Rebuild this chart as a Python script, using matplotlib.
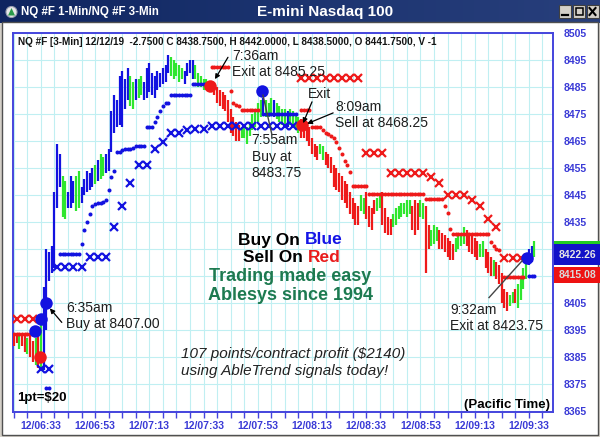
import matplotlib
matplotlib.use("Agg")
import matplotlib.pyplot as plt
from matplotlib.patches import Rectangle, Circle, Polygon
from matplotlib.colors import LinearSegmentedColormap
from matplotlib.ticker import FixedLocator, NullFormatter
import numpy as np

plt.rcParams['font.family'] = ['Liberation Sans', 'DejaVu Sans']

# ---- data (1-min bars from 6:23, minutes since midnight) ----
bar_start = 383
bar_hi = [8394, 8394, 8394, 8393, 8394, 8392, 8393, 8391, 8392, 8395,
          8400, 8411, 8425, 8424, 8426, 8446, 8464, 8460, 8452, 8450,
          8446, 8452, 8450, 8452, 8454, 8448, 8451, 8454, 8453, 8455,
          8456, 8458, 8460, 8459, 8460, 8462, 8476, 8482, 8480, 8489,
          8491, 8488, 8492, 8489, 8487, 8488, 8488, 8489, 8487, 8492,
          8494, 8490, 8489, 8491, 8490, 8492, 8493, 8497, 8496, 8495,
          8494, 8493, 8492, 8491, 8494, 8495, 8495, 8493, 8490, 8489,
          8488, 8488, 8487, 8487, 8486, 8485, 8484, 8483, 8482, 8480,
          8477, 8474, 8472, 8471, 8470, 8471, 8470, 8472, 8475, 8477,
          8479, 8480, 8481, 8480, 8479, 8481, 8480, 8479, 8478, 8477,
          8477, 8476, 8477, 8476, 8475, 8474, 8473, 8472, 8472, 8470,
          8466, 8464, 8463, 8464, 8463, 8461, 8460, 8459, 8456, 8455,
          8453, 8452, 8450, 8449, 8446, 8444, 8442, 8441, 8445, 8444,
          8446, 8441, 8440, 8443, 8444, 8445, 8446, 8440, 8437, 8436,
          8438, 8440, 8441, 8442, 8442, 8443, 8443, 8441, 8443, 8442,
          8443, 8442, 8441, 8434, 8432, 8434, 8433, 8432, 8431, 8430,
          8429, 8428, 8427, 8429, 8430, 8431, 8433, 8432, 8431, 8430,
          8429, 8428, 8427, 8428, 8425, 8424, 8422, 8421, 8420, 8419,
          8416, 8410, 8409, 8408, 8409, 8410, 8412, 8414, 8418, 8422,
          8425, 8426, 8428]
bar_lo = [8389, 8390, 8388, 8389, 8387, 8386, 8385, 8383, 8382, 8381,
          8381, 8380, 8395, 8413, 8416, 8418, 8440, 8448, 8437, 8436,
          8440, 8440, 8442, 8439, 8440, 8442, 8445, 8446, 8447, 8448,
          8449, 8450, 8451, 8452, 8453, 8454, 8461, 8468, 8470, 8471,
          8470, 8477, 8480, 8478, 8477, 8480, 8481, 8482, 8480, 8481,
          8483, 8482, 8481, 8484, 8485, 8486, 8487, 8490, 8489, 8488,
          8489, 8487, 8488, 8486, 8489, 8490, 8488, 8488, 8485, 8485,
          8484, 8484, 8484, 8483, 8482, 8479, 8478, 8477, 8476, 8472,
          8468, 8467, 8465, 8465, 8466, 8466, 8464, 8467, 8469, 8470,
          8472, 8474, 8475, 8474, 8474, 8475, 8474, 8473, 8472, 8471,
          8470, 8470, 8471, 8470, 8469, 8468, 8466, 8466, 8465, 8463,
          8460, 8459, 8458, 8460, 8458, 8456, 8455, 8453, 8448, 8447,
          8446, 8443, 8442, 8440, 8438, 8436, 8434, 8434, 8439, 8438,
          8436, 8433, 8432, 8438, 8439, 8440, 8434, 8431, 8430, 8430,
          8433, 8434, 8436, 8437, 8438, 8437, 8438, 8432, 8430, 8432,
          8437, 8436, 8416, 8425, 8426, 8427, 8428, 8425, 8425, 8424,
          8422, 8421, 8421, 8424, 8425, 8426, 8427, 8426, 8424, 8423,
          8422, 8421, 8422, 8422, 8418, 8416, 8415, 8415, 8414, 8412,
          8405, 8403, 8402, 8404, 8405, 8405, 8403, 8406, 8410, 8414,
          8419, 8420, 8422]
bar_col = ("rrgrrgrrgr" "gbbbbbbbgg" "bbbggbbbbb" "gbggbbbbbb" "bbbggbggbb"
           "bbbbbbbbgg" "gggbbbbggg" "ggrrrrrrrr" "rrrrgggggg" "ggbgggbggg"
           "gbggggrrrr" "rrrggrrrrr" "rrrrrrrrgg" "rrrrggrrrr" "gggggggrrr"
           "ggrrgggrrr" "rrrggggrrr" "rrggrrrgrr" "rrrggrgggg" "bbg")

# blue trailing stop (small dots), bar index / price
blue_stop_idx = [12, 13, 17, 18, 19, 20, 21, 22, 23, 24, 25, 26, 27, 28,
                 29, 30, 31, 32, 33, 34, 35, 36, 37,
                 38, 39, 40, 41, 42, 43, 44, 45, 46, 47, 48,
                 49, 50, 51, 52, 53, 54, 55, 56, 57,
                 58, 59, 60, 61, 62, 63, 64, 65, 66, 67, 68, 69, 70, 71,
                 92, 93, 94, 95, 96, 97, 98, 99, 100, 101, 102, 103, 104,
                 190, 191, 192]
blue_stop_px = [8373.5, 8373.5, 8423, 8423, 8423, 8423, 8423, 8423, 8423, 8423,
                8427, 8432, 8435, 8438,
                8441, 8441.5, 8442, 8442, 8442.5, 8443, 8447, 8451.5, 8454,
                8461, 8461, 8461.5, 8462, 8462, 8462, 8462.5, 8463, 8463, 8463, 8463,
                8470, 8470, 8470, 8472, 8474, 8476, 8478, 8479, 8479,
                8482, 8482, 8482, 8482, 8482, 8482, 8482, 8482,
                8486, 8486, 8486, 8486, 8486, 8486,
                8475, 8475, 8475, 8475, 8475, 8475, 8475, 8475, 8475, 8475,
                8475, 8475, 8475,
                8415, 8415, 8415]

# blue slow stop (x marks)
blue_x_idx = [10, 13, 16, 19, 22, 25, 28, 31, 34, 37, 40, 43, 46, 49, 52, 55,
              58, 61, 64, 67, 70, 73, 76, 79, 82, 85, 88, 91, 94, 97, 100, 103]
blue_x_px = [8380.5, 8380.5, 8418.5, 8418.5, 8418.5, 8418.5, 8422, 8422, 8422,
             8433, 8441, 8449.5, 8456, 8456, 8462, 8464.5, 8468, 8468, 8469,
             8469.5, 8469.5, 8470.7, 8470.7, 8470.7, 8470.7, 8470.7, 8470.7,
             8470.7, 8470.7, 8470.7, 8470.7, 8470.7]

# red trailing stop (small dots)
red_stop_idx = [0, 1, 2, 3, 4, 5, 6, 7,
                73, 74, 75, 76, 77, 78, 79, 80, 81, 82, 83,
                84, 85, 86, 87, 88, 89, 90,
                106, 107, 108, 109, 110, 111, 112, 113, 114, 115, 116, 117, 118,
                119, 120, 121, 122, 123, 124, 125, 126, 127, 128, 129, 130,
                131, 132, 133, 134, 135, 136, 137, 138, 139, 140, 141, 142, 143,
                144, 145, 146, 147, 148, 149, 150, 151,
                152, 153, 154, 155, 156, 157, 158, 159, 160, 161,
                162, 163, 164, 165, 166, 167, 168, 169, 170, 171, 172, 173, 174, 175,
                176, 177, 178, 179,
                181, 182, 183, 184, 185, 186, 187, 188]
red_stop_px = [8393.5, 8393.5, 8393.5, 8393.5, 8393.5, 8393.5, 8393.5, 8393.5,
               8492.5, 8492.5, 8492.5, 8492.5, 8492.5, 8492.5, 8492.5,
               8483.5, 8479, 8478.5, 8478,
               8476.3, 8476.3, 8476.3, 8476.3, 8476.3, 8476.3, 8476.3,
               8476.3, 8476.3, 8476.3, 8476.3, 8470, 8470, 8470, 8470,
               8469, 8468, 8467.5, 8467, 8466,
               8464.5, 8462.5, 8460, 8457.5, 8456, 8453.5,
               8448.5, 8448.5, 8448.5, 8448.5, 8448.5, 8448.5,
               8445.3, 8445.3, 8445.3, 8445.3, 8445.3, 8445.3, 8445.3, 8445.3,
               8445.3, 8445.3, 8445.3, 8445.3, 8445.3, 8445.3, 8445.3, 8445.3,
               8445.3, 8445.3, 8445.3, 8445.3, 8445.3,
               8443.5, 8443.5, 8443.5, 8443.5, 8443.5, 8443.5, 8443.5,
               8441, 8438.5, 8432.5,
               8430.5, 8430.5, 8430.5, 8430.5, 8430.5, 8430.5, 8430.5, 8430.5,
               8430.5, 8430.5, 8430.5, 8430.5, 8430.5, 8430.5,
               8427.5, 8426, 8425, 8424.5,
               8414.7, 8414.7, 8414.7, 8414.7, 8414.7, 8414.7, 8414.7, 8414.7]

# red slow stop (x marks)
red_x_idx = [1, 4, 7, 106, 109, 112, 115, 118, 121, 124, 127, 130, 133, 136,
             139, 142, 145, 148, 151, 154, 157, 160, 163, 166, 169, 172, 175,
             178, 181, 184, 187]
red_x_px = [8399, 8399, 8399, 8488.5, 8488.5, 8488.5, 8488.5, 8488.5, 8488.5,
            8488.5, 8488.5, 8460.5, 8460.5, 8460.5, 8453.3, 8453.3, 8453.3,
            8453.3, 8453.3, 8451.5, 8449.5, 8445, 8445, 8445, 8443, 8441, 8436,
            8433, 8421.5, 8421.5, 8421.5]

# signals (time in minutes since midnight)
buy_t = [390.8, 393.0, 394.8, 474.5, 572.3]
buy_p = [8394.5, 8399, 8405, 8483.6, 8421.7]
sell_t = [392.6, 455.4, 489.3]
sell_p = [8385, 8485.5, 8471]

xtick_times = [393, 413, 433, 453, 473, 493, 513, 533, 553, 573]
ytick_vals = [8365, 8375, 8385, 8395, 8405, 8415, 8425, 8435, 8445, 8455,
              8465, 8475, 8485, 8495, 8505]
# 8415 / 8425 sit under the last-price boxes, so they are not shown
ytick_hidden = [8415, 8425]

BLUE = '#1212e0'
GREEN = '#2ee62e'
RED = '#ee1a1a'
LBL = '#3a3ad6'
colmap = {'b': BLUE, 'g': GREEN, 'r': RED}

W, H = 600, 437
fig = plt.figure(figsize=(6, 4.37), dpi=100)
fig.patch.set_facecolor('#d4d0c8')

# window chrome (pixel coords)
bg = fig.add_axes([0, 0, 1, 1], zorder=0)
bg.add_patch(Rectangle((2, 22), 596, 413, fc='white', ec='#505050', lw=1))
grad = np.linspace(0, 1, 256).reshape(1, -1)
cm = LinearSegmentedColormap.from_list('tb', ['#0f2560', '#1c3470', '#283f7c'])
bg.imshow(grad, extent=(0, W, 23, 0), aspect='auto', cmap=cm)
bg.set_xlim(0, W)
bg.set_ylim(H, 0)
bg.axis('off')

# main chart
ax = fig.add_axes([13 / W, 1 - 411.5 / H, 540 / W, 378.5 / H], zorder=1)
ax.set_facecolor('white')
ax.set_xlim(382.7, 581.9)
ax.set_ylim(8364.8, 8504.1)

t = bar_start + np.arange(len(bar_hi))
ax.vlines(t, bar_lo, bar_hi, colors=[colmap[c] for c in bar_col], lw=1.6, zorder=3)

ax.plot(bar_start + np.array(blue_stop_idx), blue_stop_px, 'o', ms=2.9,
        color=BLUE, mec='none', zorder=4)
ax.plot(bar_start + np.array(red_stop_idx), red_stop_px, 'o', ms=2.9,
        color=RED, mec='none', zorder=4)
ax.plot(bar_start + np.array(blue_x_idx), blue_x_px, 'x', ms=6, mew=1.6,
        color=BLUE, zorder=4)
ax.plot(bar_start + np.array(red_x_idx), red_x_px, 'x', ms=6, mew=1.6,
        color=RED, zorder=4)
ax.plot(buy_t, buy_p, 'o', ms=9, color=BLUE, mec='none', zorder=5)
ax.plot(sell_t, sell_p, 'o', ms=9, color=RED, mec='none', zorder=5)

# axes styling
for s in ax.spines.values():
    s.set_color('#4444dd')
    s.set_linewidth(1.4)
ax.yaxis.tick_right()
ax.set_yticks(ytick_vals)
ax.set_yticklabels(['' if v in ytick_hidden else str(v) for v in ytick_vals])
ax.tick_params(axis='y', length=0, pad=8, labelsize=7.5, labelcolor=LBL)
for lab in ax.get_yticklabels():
    lab.set_fontweight('bold')
ax.set_xticks(xtick_times)
ax.set_xticklabels(['12/%02d:%02d' % (m // 60, m % 60) for m in xtick_times])
ax.xaxis.set_minor_locator(FixedLocator(list(range(383, 582, 5))))
ax.xaxis.set_minor_formatter(NullFormatter())
ax.tick_params(axis='x', which='both', direction='out', length=4, width=1,
               color='#4444dd', labelsize=7.5, labelcolor=LBL, pad=3)
for lab in ax.get_xticklabels():
    lab.set_fontweight('bold')
ax.grid(True, which='both', axis='x', color='#c0eff2', lw=0.8, zorder=0)
ax.grid(True, which='major', axis='y', color='#c0eff2', lw=0.8, zorder=0)
ax.set_axisbelow(True)

# annotations
TXT = '#1e1e1e'
ax.text(402.2, 8400.1, "6:35am\nBuy at 8407.00", fontsize=10, color=TXT,
        ha='left', va='center', linespacing=1.2, zorder=6)
ax.annotate('', xy=(396.3, 8403.0), xytext=(400.7, 8397.8),
            arrowprops=dict(arrowstyle='-|>', color='black', lw=0.9,
                            mutation_scale=7, shrinkA=0, shrinkB=0), zorder=6)
ax.text(463.4, 8493.6, "7:36am\nExit at 8485.25", fontsize=10, color=TXT,
        ha='left', va='center', linespacing=1.2, zorder=6)
ax.annotate('', xy=(457.2, 8487.9), xytext=(462.0, 8496.0),
            arrowprops=dict(arrowstyle='-|>', color='black', lw=0.9,
                            mutation_scale=7, shrinkA=0, shrinkB=0), zorder=6)
ax.text(491.5, 8482.4, "Exit", fontsize=10, color=TXT, ha='left',
        va='center', zorder=6)
ax.annotate('', xy=(489.7, 8471.6), xytext=(493.0, 8479.5),
            arrowprops=dict(arrowstyle='-|>', color='black', lw=0.9,
                            mutation_scale=7, shrinkA=0, shrinkB=0), zorder=6)
ax.text(501.5, 8474.5, "8:09am\nSell at 8468.25", fontsize=10, color=TXT,
        ha='left', va='center', linespacing=1.2, zorder=6)
ax.annotate('', xy=(491.2, 8471.4), xytext=(500.8, 8475.4),
            arrowprops=dict(arrowstyle='-|>', color='black', lw=0.9,
                            mutation_scale=7, shrinkA=0, shrinkB=0), zorder=6)
ax.text(470.7, 8459.2, "7:55am\nBuy at\n8483.75", fontsize=10, color=TXT,
        ha='left', va='center', linespacing=1.2, zorder=6)
ax.plot([478.2, 474.9], [8467.4, 8482.0], color='#444444', lw=1, zorder=6)
ax.text(543.9, 8399.4, "9:32am\nExit at 8423.75", fontsize=10, color=TXT,
        ha='left', va='center', linespacing=1.2, zorder=6)
ax.plot([558.3, 570.5], [8407.0, 8420.6], color='#444444', lw=1, zorder=6)

# overlay for free text and chrome (pixel coords)
ov = fig.add_axes([0, 0, 1, 1], zorder=2)
ov.set_xlim(0, W)
ov.set_ylim(H, 0)
ov.axis('off')

ov.add_patch(Circle((11.5, 12), 5.5, fc='#e8e8e8', ec='#9aa0b0', lw=0.8))
ov.add_patch(Polygon([[8, 15.5], [15, 15.5], [11.5, 8]], closed=True,
                     fc='#2a9a4a', ec='none'))
ov.text(21, 12, "NQ #F 1-Min/NQ #F 3-Min", color='white', fontsize=8.3,
        fontweight='bold', ha='left', va='center')
ov.text(325, 12, "E-mini Nasdaq 100", color='white', fontsize=11,
        fontweight='bold', ha='center', va='center')
for bx in (559, 573, 586.5):
    ov.add_patch(Rectangle((bx, 5), 12, 13, fc='#d4d0c8', ec='#404040', lw=0.8))
ov.plot([562, 568], [15, 15], color='black', lw=1.6)
ov.add_patch(Rectangle((576, 8), 6.5, 7, fc='none', ec='black', lw=1.1))
ov.plot([589.5, 595.5], [8, 15], color='black', lw=1.5)
ov.plot([589.5, 595.5], [15, 8], color='black', lw=1.5)

ov.text(18, 42, "NQ #F [3-Min] 12/12/19  -2.7500 C 8438.7500, H 8442.0000, "
        "L 8438.5000, O 8441.7500, V -1", fontsize=7.2, fontweight='bold',
        color='#141414', ha='left', va='center')

# price boxes on the right scale
ov.add_patch(Rectangle((554, 241), 46, 3, fc='#22cc22', ec='none'))
ov.add_patch(Rectangle((554, 244), 46, 21, fc='#1212c8', ec='none'))
ov.add_patch(Rectangle((554, 267), 46, 16, fc='#ee1212', ec='none'))
ov.text(559, 255, "8422.26", color='#e6e6e6', fontsize=7.5, fontweight='bold',
        ha='left', va='center')
ov.text(559, 275, "8415.08", color='#d8d8d8', fontsize=7.5, fontweight='bold',
        ha='left', va='center')

ov.text(300, 240, "Buy On", color='black', fontsize=12.5, fontweight='bold',
        ha='right', va='center')
ov.text(305, 240, "Blue", color='#1414e6', fontsize=12.5, fontweight='bold',
        ha='left', va='center')
ov.text(303, 258, "Sell On", color='black', fontsize=12.5, fontweight='bold',
        ha='right', va='center')
ov.text(308, 258, "Red", color='#e81c1c', fontsize=12.5, fontweight='bold',
        ha='left', va='center')
ov.text(290, 276.5, "Trading made easy", color='#1d7a50', fontsize=13,
        fontweight='bold', ha='center', va='center')
ov.text(290, 296, "Ablesys since 1994", color='#1d7a50', fontsize=13,
        fontweight='bold', ha='center', va='center')
ov.text(181, 354, "107 points/contract profit ($2140)", color='#222222',
        fontsize=11, style='italic', ha='left', va='center')
ov.text(181, 371, "using AbleTrend signals today!", color='#222222',
        fontsize=11, style='italic', ha='left', va='center')
ov.text(17, 398, "1pt=$20", color='black', fontsize=9.5, fontweight='bold',
        ha='left', va='center')
ov.text(550, 405, "(Pacific Time)", color='black', fontsize=9.5,
        fontweight='bold', ha='right', va='center')

fig.savefig("out.png", dpi=100, facecolor=fig.get_facecolor())
